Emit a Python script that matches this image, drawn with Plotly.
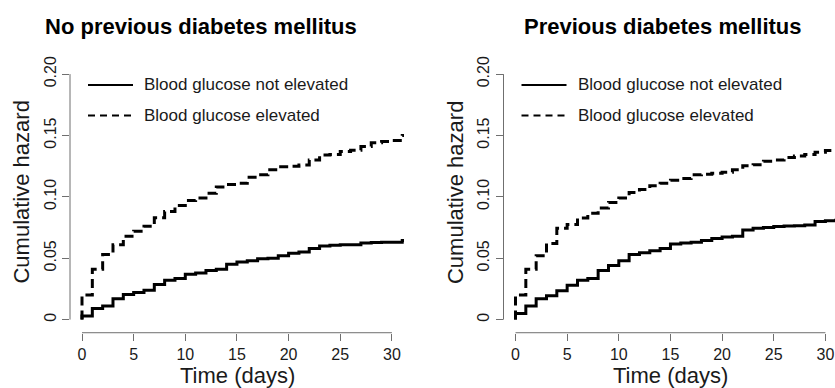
import plotly.graph_objects as go

# ---------------- data ----------------
days = list(range(0, 32))  # event days 0..31

# No previous diabetes mellitus
nd_not_elevated = [0.003, 0.009, 0.011, 0.017, 0.0205, 0.022, 0.024, 0.0285, 0.032, 0.0335,
                   0.037, 0.038, 0.040, 0.041, 0.045, 0.047, 0.048, 0.0495, 0.050, 0.052,
                   0.054, 0.055, 0.058, 0.060, 0.0605, 0.061, 0.061, 0.0625, 0.0628, 0.063,
                   0.063, 0.0645]
nd_elevated = [0.020, 0.041, 0.053, 0.061, 0.068, 0.072, 0.076, 0.083, 0.088, 0.093,
               0.097, 0.099, 0.103, 0.108, 0.110, 0.111, 0.116, 0.118, 0.122, 0.1245,
               0.125, 0.126, 0.130, 0.134, 0.1345, 0.137, 0.138, 0.141, 0.144, 0.145,
               0.146, 0.150]

# Previous diabetes mellitus
pd_not_elevated = [0.005, 0.011, 0.017, 0.0195, 0.0235, 0.028, 0.032, 0.0335, 0.040, 0.044,
                   0.048, 0.053, 0.0545, 0.056, 0.058, 0.0615, 0.0625, 0.063, 0.0645, 0.066,
                   0.0673, 0.068, 0.073, 0.0745, 0.075, 0.0758, 0.0762, 0.0765, 0.077, 0.080,
                   0.0805, 0.081]
pd_elevated = [0.020, 0.041, 0.052, 0.062, 0.0745, 0.0775, 0.0828, 0.0866, 0.091, 0.0954,
               0.099, 0.1035, 0.106, 0.109, 0.111, 0.1135, 0.115, 0.118, 0.1185, 0.1192,
               0.120, 0.122, 0.1254, 0.1262, 0.129, 0.130, 0.132, 0.1333, 0.1345, 0.1364,
               0.1378, 0.138]

panel_titles = ["No previous diabetes mellitus", "Previous diabetes mellitus"]
series_names = ["Blood glucose not elevated", "Blood glucose elevated"]
x_ticks = [0, 5, 10, 15, 20, 25, 30]
y_ticks = [0, 0.05, 0.10, 0.15, 0.20]
y_ticktext = ["0", "0.05", "0.10", "0.15", "0.20"]
x_title = "Time (days)"
y_title = "Cumulative hazard"
follow_up_end = 32

# ---------------- layout helpers ----------------
W, H = 835, 388
FONT = "Liberation Sans, Arial, Helvetica, sans-serif"
AX_COL = "#6f6f6f"
TXT_COL = "#1a1a1a"


def px(xp):
    return xp / W


def py(yp):
    return 1 - yp / H


PPD = 10.33               # pixels per day
PPH = 1243.5              # pixels per hazard unit
Y0_PX = 318.7             # pixel row of hazard 0
PLOT_TOP, PLOT_BOT = 57, 332
panels = [
    dict(axis_px=70, zero_px=82, right_px=404),
    dict(axis_px=503.5, zero_px=515.5, right_px=835),
]

fig = go.Figure()


def step_xy(vals):
    xs = [0] + days + [follow_up_end]
    ys = [0] + vals + [vals[-1]]
    return xs, ys


data_sets = [(nd_not_elevated, nd_elevated), (pd_not_elevated, pd_elevated)]
layout_axes = {}
shapes = []
annotations = []

for i, (p, (s_not, s_elev)) in enumerate(zip(panels, data_sets)):
    sfx = "" if i == 0 else str(i + 1)
    xa, ya = "x" + sfx, "y" + sfx
    for vals, dash in [(s_not, "solid"), (s_elev, "9px,5px")]:
        xs, ys = step_xy(vals)
        fig.add_trace(go.Scatter(
            x=xs, y=ys, mode="lines", line_shape="hv",
            line=dict(color="black", width=3, dash=dash),
            xaxis=xa, yaxis=ya, showlegend=False, hoverinfo="skip"))

    x_lo = (p["axis_px"] - p["zero_px"]) / PPD
    x_hi = (p["right_px"] - p["zero_px"]) / PPD
    y_lo = -(PLOT_BOT - Y0_PX) / PPH
    y_hi = (Y0_PX - PLOT_TOP) / PPH

    layout_axes["xaxis" + sfx] = dict(
        domain=[px(p["axis_px"]), min(1.0, px(p["right_px"]))],
        range=[x_lo, x_hi], anchor=ya,
        showgrid=False, zeroline=False, showline=False,
        ticks="outside", ticklen=7, tickwidth=1, tickcolor=AX_COL,
        tickvals=x_ticks, ticktext=[str(t) for t in x_ticks],
        tickfont=dict(family=FONT, size=16, color=TXT_COL),
        fixedrange=True)
    layout_axes["yaxis" + sfx] = dict(
        domain=[py(PLOT_BOT), py(PLOT_TOP)],
        range=[y_lo, y_hi], anchor=xa,
        showgrid=False, zeroline=False, showline=False,
        ticks="outside", ticklen=7, tickwidth=1, tickcolor=AX_COL,
        tickvals=y_ticks, ticktext=y_ticktext, tickangle=-90,
        tickfont=dict(family=FONT, size=16, color=TXT_COL),
        fixedrange=True)

    # axis lines spanning first to last tick (R style)
    shapes.append(dict(type="line", xref=xa, yref=ya + " domain",
                       x0=x_ticks[0], x1=x_ticks[-1], y0=0, y1=0,
                       line=dict(color=AX_COL, width=1)))
    shapes.append(dict(type="line", xref=xa + " domain", yref=ya,
                       x0=0, x1=0, y0=y_ticks[0], y1=y_ticks[-1],
                       line=dict(color=AX_COL, width=1)))

    # legend
    lx0 = p["axis_px"] + 18
    lx1 = lx0 + 45
    for row, (name, dash) in enumerate(zip(series_names, ["solid", "7px,5px"])):
        yy = 81 + row * 31
        shapes.append(dict(type="line", xref="paper", yref="paper",
                           x0=px(lx0), x1=px(lx1), y0=py(yy), y1=py(yy),
                           line=dict(color="black", width=2, dash=dash)))
        annotations.append(dict(text=name, xref="paper", yref="paper",
                                x=px(lx1 + 9), y=py(yy), xanchor="left", yanchor="middle",
                                showarrow=False,
                                font=dict(family=FONT, size=17, color=TXT_COL)))

    # panel title
    title_left = [43, 522][i]
    annotations.append(dict(text="<b>" + panel_titles[i] + "</b>", xref="paper", yref="paper",
                            x=px(title_left), y=py(22), xanchor="left", yanchor="middle",
                            showarrow=False,
                            font=dict(family=FONT, size=22, color="black")))
    # axis titles
    annotations.append(dict(text=x_title, xref="paper", yref="paper",
                            x=px((p["axis_px"] + p["axis_px"] + 334) / 2), y=py(375),
                            xanchor="center", yanchor="middle", showarrow=False,
                            font=dict(family=FONT, size=22, color=TXT_COL)))
    annotations.append(dict(text=y_title, xref="paper", yref="paper",
                            x=px(p["axis_px"] - 48), y=py(190), textangle=-90,
                            xanchor="center", yanchor="middle", showarrow=False,
                            font=dict(family=FONT, size=22, color=TXT_COL)))

fig.update_layout(
    width=W, height=H,
    margin=dict(l=0, r=0, t=0, b=0),
    paper_bgcolor="white", plot_bgcolor="white",
    shapes=shapes, annotations=annotations,
    showlegend=False,
    **layout_axes)

fig.write_html("out.html", config={"displayModeBar": False})
